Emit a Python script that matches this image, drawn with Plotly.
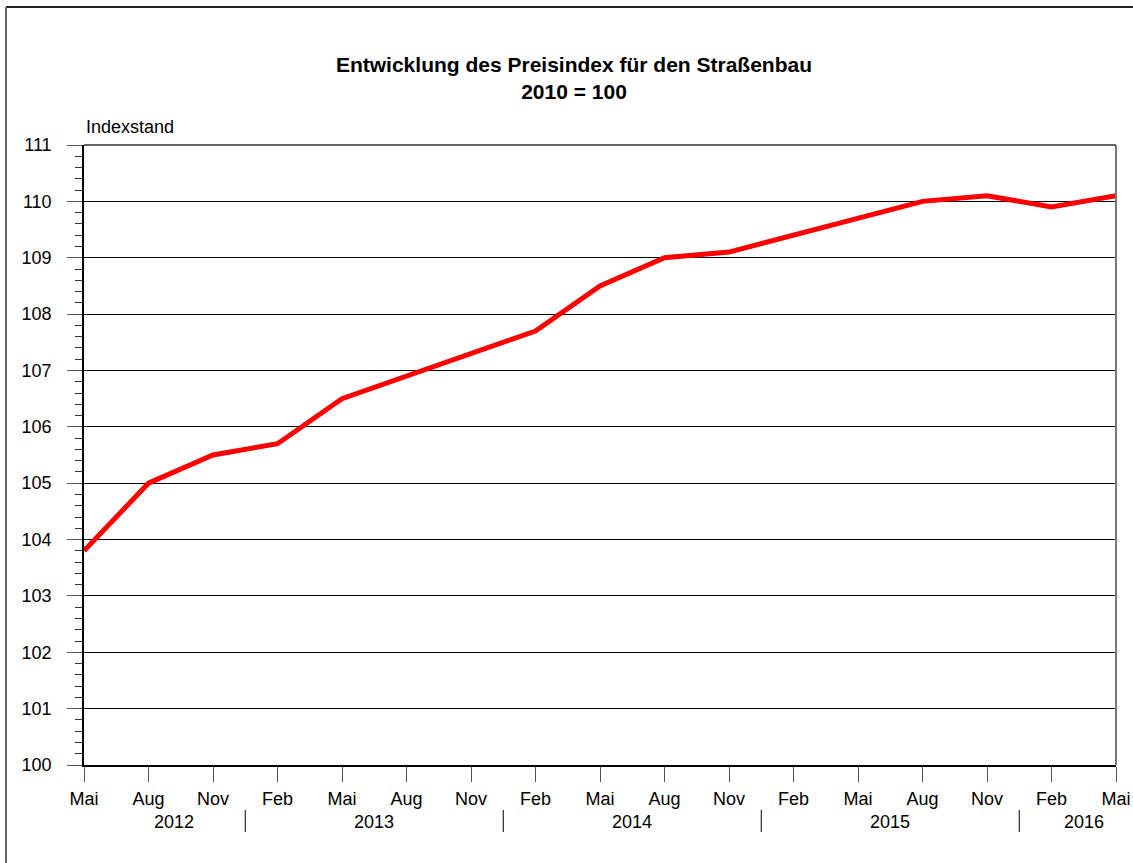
import plotly.graph_objects as go

months = ["Mai", "Aug", "Nov", "Feb", "Mai", "Aug", "Nov", "Feb", "Mai",
          "Aug", "Nov", "Feb", "Mai", "Aug", "Nov", "Feb", "Mai"]
values = [103.8, 105.0, 105.5, 105.7, 106.5, 106.9, 107.3, 107.7, 108.5,
          109.0, 109.1, 109.4, 109.7, 110.0, 110.1, 109.9, 110.1]
years = ["2012", "2013", "2014", "2015", "2016"]
year_pos = [1.4, 4.5, 8.5, 12.5, 15.5]
year_breaks = [2.5, 6.5, 10.5, 14.5]

W, H = 1133, 863
PL, PT, PR, PB = 84, 145, 1116, 765
L, T, R, B = PL, PT, W - PR, H - PB
pw, ph = PR - PL, PB - PT


def py(y_px):
    """pixel y -> paper y"""
    return (PB - y_px) / ph


def px(x_px):
    """pixel x -> paper x"""
    return (x_px - PL) / pw


xs = list(range(len(values)))

fig = go.Figure()
fig.add_trace(go.Scatter(x=xs, y=values, mode="lines",
                         line=dict(color="#ff0000", width=5),
                         showlegend=False, hoverinfo="skip"))

font = "Liberation Sans, Arial, sans-serif"

fig.update_layout(
    width=W, height=H, autosize=False,
    margin=dict(l=L, r=R, t=T, b=B, autoexpand=False),
    paper_bgcolor="white", plot_bgcolor="white",
    font=dict(family=font, size=18, color="black"),
    title=dict(text="<b>Entwicklung des Preisindex für den Straßenbau<br>2010 = 100</b>",
               x=574 / W, xanchor="center", y=1 - 72 / H, yanchor="middle",
               font=dict(family=font, size=21, color="black")),
    xaxis=dict(range=[0, 16], tickvals=xs, ticktext=months,
               ticks="outside", ticklen=15, tickcolor="#555", tickwidth=1,
               showgrid=False, zeroline=False, automargin=False,
               showline=True, linecolor="black", linewidth=1.5,
               ticklabelstandoff=2, ticklabeloverflow="allow",
               tickfont=dict(size=18), fixedrange=True),
    yaxis=dict(range=[100, 111], dtick=1, tick0=100,
               ticks="outside", ticklen=15, tickcolor="#555", tickwidth=1,
               showgrid=True, gridcolor="black", gridwidth=1, automargin=False,
               zeroline=False, showline=True, linecolor="black", linewidth=1.5,
               ticklabelstandoff=12,
               minor=dict(dtick=0.2, ticks="outside", ticklen=7,
                          tickcolor="#333", showgrid=False),
               tickfont=dict(size=18), fixedrange=True),
)

# right border of plot area
fig.add_shape(type="line", xref="paper", yref="paper", x0=1, x1=1, y0=0, y1=1,
              line=dict(color="#777", width=2))
# top border
fig.add_shape(type="line", xref="paper", yref="paper", x0=0, x1=1, y0=1, y1=1,
              line=dict(color="#333", width=1.5))

# year separators
for xb in year_breaks:
    fig.add_shape(type="line", xref="x", yref="paper", x0=xb, x1=xb,
                  y0=py(810), y1=py(832),
                  line=dict(color="black", width=1))

# year labels
for yr, xp in zip(years, year_pos):
    fig.add_annotation(x=xp, xref="x", y=py(822), yref="paper",
                       text=yr, showarrow=False, xanchor="center", yanchor="middle",
                       font=dict(size=18))

# y-axis title
fig.add_annotation(x=0, xref="paper", y=py(127), yref="paper",
                   text="Indexstand", showarrow=False, xanchor="left", yanchor="middle",
                   font=dict(size=18))

# outer frame: top and left edges visible
fig.add_shape(type="line", xref="paper", yref="paper",
              x0=px(6), x1=px(W + 5), y0=py(7), y1=py(7),
              line=dict(color="#222", width=2))
fig.add_shape(type="line", xref="paper", yref="paper",
              x0=px(6), x1=px(6), y0=py(7), y1=py(H + 5),
              line=dict(color="#666", width=2))

fig.write_html("out.html",
               config={"displayModeBar": False},
               post_script="document.body.style.margin='0';"
                           "document.body.style.overflow='hidden';")
